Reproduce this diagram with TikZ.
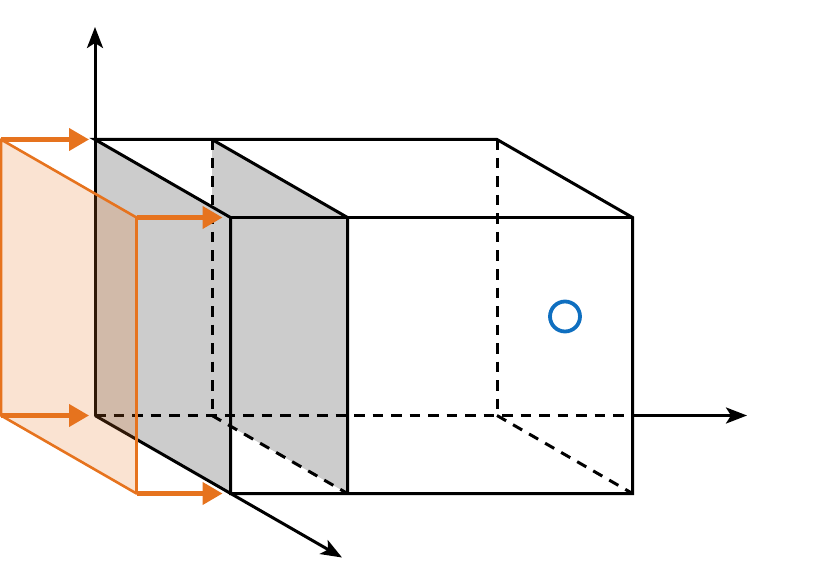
\documentclass[tikz,border=0pt]{standalone}
\usetikzlibrary{arrows.meta}
\definecolor{boxorange}{HTML}{E6731E}
\definecolor{boxgray}{HTML}{CCCCCC}
\definecolor{boxblue}{HTML}{0F6FC0}
\tikzset{
    axis/.style={line width=3pt,-{Stealth[length=21pt,width=16pt,inset=5pt]}},
    edge/.style={line width=3pt},
    hidden/.style={line width=3pt,dash pattern=on 10.5pt off 8pt},
    slice/.style={fill=boxgray},
    shifted/.style={draw=boxorange,fill=boxorange,fill opacity=0.2,line width=2.6pt,line join=round},
    push/.style={draw=boxorange,line width=4.2pt,-{Triangle[length=20pt,width=22pt]}},
}
\begin{document}
\begin{tikzpicture}[x=1pt,y=-1pt]
    \useasboundingbox (0,0) rectangle (830,572);
    \coordinate (backTL) at (95,139.5);
    \coordinate (backBL) at (95,415.5);
    \coordinate (backTR) at (497,139.5);
    \coordinate (backBR) at (497,415.5);
    \coordinate (frontTL) at (230.5,217.5);
    \coordinate (frontBL) at (230.5,493.5);
    \coordinate (frontTR) at (632.5,217.5);
    \coordinate (frontBR) at (632.5,493.5);
    \coordinate (midBackT) at (212,139.5);
    \coordinate (midBackB) at (212,415.5);
    \coordinate (midFrontT) at (347.5,217.5);
    \coordinate (midFrontB) at (347.5,493.5);
    \coordinate (oldBackT) at (1,139.5);
    \coordinate (oldBackB) at (1,415.5);
    \coordinate (oldFrontT) at (136.5,217.5);
    \coordinate (oldFrontB) at (136.5,493.5);
    \coordinate (exitX) at (632.5,415.5);
    \coordinate (tipY) at (95,27);
    \coordinate (tipX) at (747,415.5);
    \coordinate (tipZ) at (342,557.5);
    \coordinate (tipBackT) at (89,139.5);
    \coordinate (tipBackB) at (89,415.5);
    \coordinate (tipFrontT) at (222.5,217.5);
    \coordinate (tipFrontB) at (222.5,493.5);
    % gray slices
    \fill[slice] (backTL) -- (frontTL) -- (frontBL) -- (backBL) -- cycle;
    \fill[slice] (midBackT) -- (midFrontT) -- (midFrontB) -- (midBackB) -- cycle;
    % hidden edges
    \draw[hidden] (midBackT) -- (midBackB);
    \draw[hidden] (backTR) -- (backBR);
    \draw[hidden] (backBL) -- (exitX);
    \draw[hidden] (midBackB) -- (midFrontB);
    \draw[hidden] (backBR) -- (frontBR);
    % axes
    \draw[axis] (backBL) -- (tipY);
    \draw[axis] (exitX) -- (tipX);
    \draw[axis] (backBL) -- (tipZ);
    % box
    \draw[edge] (backTL) -- (backTR) -- (frontTR) -- (frontBR) -- (frontBL) -- (frontTL) -- cycle;
    \draw[edge] (frontTL) -- (frontTR);
    \draw[edge] (midBackT) -- (midFrontT) -- (midFrontB);
    % shifted face
    \draw[shifted] (oldBackT) -- (oldFrontT) -- (oldFrontB) -- (oldBackB) -- cycle;
    \draw[push] (oldBackT) -- (tipBackT);
    \draw[push] (oldBackB) -- (tipBackB);
    \draw[push] (oldFrontT) -- (tipFrontT);
    \draw[push] (oldFrontB) -- (tipFrontB);
    % marker
    \node[draw=boxblue,circle,line width=3.8pt,minimum size=30pt,inner sep=0pt] (marker) at (565,316.5) {};
\end{tikzpicture}
\end{document}
